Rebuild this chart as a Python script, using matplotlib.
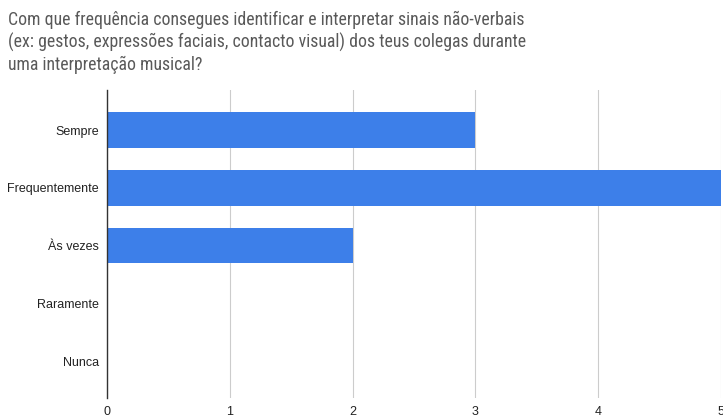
import matplotlib
matplotlib.use("Agg")
import matplotlib.pyplot as plt

# dados do gráfico
categorias = ["Sempre", "Frequentemente", "Às vezes", "Raramente", "Nunca"]
valores = [3, 5, 2, 0, 0]
ticks_x = [0, 1, 2, 3, 4, 5]

titulo = ("Com que frequência consegues identificar e interpretar sinais não-verbais\n"
          "(ex: gestos, expressões faciais, contacto visual) dos teus colegas durante\n"
          "uma interpretação musical?")

plt.rcParams["font.family"] = ["Liberation Sans", "DejaVu Sans"]

fig = plt.figure(figsize=(7.23, 4.17), dpi=100)
ax = fig.add_axes([0.148, 0.0456, 0.849, 0.738])

pos = list(range(len(categorias)))
ax.barh(pos, valores, height=0.62, color="#3d7fe9", zorder=3)

ax.set_ylim(4.64, -0.69)
ax.set_xlim(0, 5)
ax.set_yticks(pos)
ax.set_yticklabels(categorias, fontsize=9, color="#222222")
ax.set_xticks(ticks_x)
ax.set_xticklabels([str(t) for t in ticks_x], fontsize=9, color="#222222")
ax.tick_params(length=0, pad=6)
ax.tick_params(axis="x", pad=6)

ax.grid(axis="x", color="#cccccc", linewidth=0.8, zorder=0)
for s in ["top", "right", "bottom"]:
    ax.spines[s].set_visible(False)
ax.spines["left"].set_color("#333333")
ax.spines["left"].set_linewidth(1)
ax.spines["left"].set_zorder(4)

# titulo numa fonte estreita, como no original
fig.text(0.011, 0.974, titulo, fontsize=12.8, color="#595959",
         family=["Roboto Condensed", "Liberation Sans"],
         ha="left", va="top", linespacing=1.27)

fig.savefig("out.png", dpi=100)
